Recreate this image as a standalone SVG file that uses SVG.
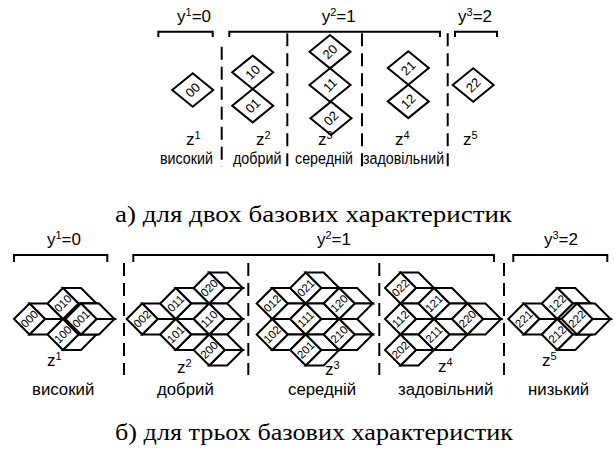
<svg xmlns="http://www.w3.org/2000/svg" width="615" height="454" viewBox="0 0 615 454">
<style>
.ln{fill:none;stroke:#000;stroke-width:2}
.dash{fill:none;stroke:#000;stroke-width:2;stroke-dasharray:13 7}
.sh{fill:#fff;stroke:#000;stroke-width:2;stroke-linejoin:miter}
.t{font-family:"Liberation Sans",Arial,sans-serif;fill:#000}
.lab{font-family:"Liberation Sans",Arial,sans-serif;font-size:11.5px;text-anchor:middle;dominant-baseline:central;fill:#000}
.laba{font-family:"Liberation Sans",Arial,sans-serif;font-size:13px;text-anchor:middle;dominant-baseline:central;fill:#000}
.cap{font-family:"Liberation Serif","Times New Roman",serif;font-size:23px;fill:#000}
</style>
<defs>
<g id="dia"><polygon class="sh" points="-20.5,0 0,-16.7 20.5,0 0,16.7"/></g>
<g id="cube"><polygon class="sh" points="0,-15.5 18,-15.5 33.5,0 15.5,0"/><polygon class="sh" points="15.5,0 33.5,0 18,15.5 0,15.5"/><polygon class="sh" points="-15.5,0 0,-15.5 15.5,0 0,15.5"/></g>
</defs>
<g id="connectors">
<path class="ln" d="M158.3,37V31.7H212.7V37M229.3,37V31.7H440V37M455,37V31.7H497V37"/>
<path class="dash" d="M221.7,46.7V167M287.3,33.3V167M362,33.3V167M447.7,33.3V167"/>
<path class="ln" d="M14,262V255H107.3V262M133.3,262V255H494V262M513.3,262V255H607.3V262"/>
<path class="dash" d="M124,263V375M248.3,263V375M379.3,263V375M504,263V375"/>
</g>
<g id="n00"><use href="#dia" x="192.7" y="90"/><text class="laba" transform="translate(192.7,90) rotate(-45)">00</text></g>
<g id="n10"><use href="#dia" x="252.7" y="72.3"/><text class="laba" transform="translate(252.7,72.3) rotate(-45)">10</text></g>
<g id="n01"><use href="#dia" x="252.7" y="105.7"/><text class="laba" transform="translate(252.7,105.7) rotate(-45)">01</text></g>
<g id="n20"><use href="#dia" x="330" y="51.7"/><text class="laba" transform="translate(330,51.7) rotate(-45)">20</text></g>
<g id="n11"><use href="#dia" x="330" y="85"/><text class="laba" transform="translate(330,85) rotate(-45)">11</text></g>
<g id="n02"><use href="#dia" x="331" y="118.3"/><text class="laba" transform="translate(331,118.3) rotate(-45)">02</text></g>
<g id="n21"><use href="#dia" x="408.3" y="68"/><text class="laba" transform="translate(408.3,68) rotate(-45)">21</text></g>
<g id="n12"><use href="#dia" x="408.3" y="101.4"/><text class="laba" transform="translate(408.3,101.4) rotate(-45)">12</text></g>
<g id="n22"><use href="#dia" x="473.2" y="85"/><text class="laba" transform="translate(473.2,85) rotate(-45)">22</text></g>
<g id="labels-a" class="t">
<text x="177" y="21.5" font-size="17">y<tspan font-size="11" dy="-6">1</tspan><tspan dy="6">=0</tspan></text>
<text x="321.7" y="21.5" font-size="17">y<tspan font-size="11" dy="-6">2</tspan><tspan dy="6">=1</tspan></text>
<text x="458" y="21.5" font-size="17">y<tspan font-size="11" dy="-6">3</tspan><tspan dy="6">=2</tspan></text>
<text x="186" y="145" font-size="17">z<tspan font-size="11" dy="-6">1</tspan></text>
<text x="256" y="145" font-size="17">z<tspan font-size="11" dy="-6">2</tspan></text>
<text x="318" y="145" font-size="17">z<tspan font-size="11" dy="-6">3</tspan></text>
<text x="395" y="145" font-size="17">z<tspan font-size="11" dy="-6">4</tspan></text>
<text x="463" y="145" font-size="17">z<tspan font-size="11" dy="-6">5</tspan></text>
<g transform="translate(0,164) scale(1,1.2)">
<text x="160" y="0" font-size="14.3">високий</text>
<text x="233" y="0" font-size="14.3">добрий</text>
<text x="295" y="0" font-size="14.3">середній</text>
<text x="363" y="0" font-size="14.3">задовільний</text>
</g>
</g>
<text class="cap" x="115" y="221.7" textLength="397" lengthAdjust="spacingAndGlyphs">а) для двох базових характеристик</text>
<g id="labels-b" class="t">
<text x="64" y="245" font-size="17" text-anchor="middle">y<tspan font-size="11" dy="-6">1</tspan><tspan dy="6">=0</tspan></text>
<text x="334" y="245" font-size="17" text-anchor="middle">y<tspan font-size="11" dy="-6">2</tspan><tspan dy="6">=1</tspan></text>
<text x="561" y="245" font-size="17" text-anchor="middle">y<tspan font-size="11" dy="-6">3</tspan><tspan dy="6">=2</tspan></text>
<text x="47" y="366" font-size="17">z<tspan font-size="11" dy="-6">1</tspan></text>
<text x="177" y="373" font-size="17">z<tspan font-size="11" dy="-6">2</tspan></text>
<text x="325" y="375" font-size="17">z<tspan font-size="11" dy="-6">3</tspan></text>
<text x="438" y="372" font-size="17">z<tspan font-size="11" dy="-6">4</tspan></text>
<text x="542" y="366" font-size="17">z<tspan font-size="11" dy="-6">5</tspan></text>
<text x="32" y="395" font-size="16.8">високий</text>
<text x="157" y="395" font-size="16.8">добрий</text>
<text x="288" y="395" font-size="16.8">середній</text>
<text x="398" y="395" font-size="16.8">задовільний</text>
<text x="528" y="395" font-size="16.8">низький</text>
</g>
<g id="c000"><use href="#cube" x="29.5" y="319"/><text class="lab" transform="translate(29.5,319) rotate(-45)">000</text></g>
<g id="c010"><use href="#cube" x="63" y="303.5"/><text class="lab" transform="translate(63,303.5) rotate(-45)">010</text></g>
<g id="c100"><use href="#cube" x="63" y="334.5"/><text class="lab" transform="translate(63,334.5) rotate(-45)">100</text></g>
<g id="c001"><use href="#cube" x="81" y="319"/><text class="lab" transform="translate(81,319) rotate(-45)">001</text></g>
<g id="c002"><use href="#cube" x="142.2" y="319"/><text class="lab" transform="translate(142.2,319) rotate(-45)">002</text></g>
<g id="c011"><use href="#cube" x="175.7" y="303.5"/><text class="lab" transform="translate(175.7,303.5) rotate(-45)">011</text></g>
<g id="c101"><use href="#cube" x="175.7" y="334.5"/><text class="lab" transform="translate(175.7,334.5) rotate(-45)">101</text></g>
<g id="c020"><use href="#cube" x="209.2" y="288"/><text class="lab" transform="translate(209.2,288) rotate(-45)">020</text></g>
<g id="c110"><use href="#cube" x="209.2" y="319"/><text class="lab" transform="translate(209.2,319) rotate(-45)">110</text></g>
<g id="c200"><use href="#cube" x="209.2" y="350"/><text class="lab" transform="translate(209.2,350) rotate(-45)">200</text></g>
<g id="c012"><use href="#cube" x="272.2" y="303.5"/><text class="lab" transform="translate(272.2,303.5) rotate(-45)">012</text></g>
<g id="c102"><use href="#cube" x="272.2" y="334.5"/><text class="lab" transform="translate(272.2,334.5) rotate(-45)">102</text></g>
<g id="c021"><use href="#cube" x="305.7" y="288"/><text class="lab" transform="translate(305.7,288) rotate(-45)">021</text></g>
<g id="c111"><use href="#cube" x="305.7" y="319"/><text class="lab" transform="translate(305.7,319) rotate(-45)">111</text></g>
<g id="c201"><use href="#cube" x="305.7" y="350"/><text class="lab" transform="translate(305.7,350) rotate(-45)">201</text></g>
<g id="c120"><use href="#cube" x="339.2" y="303.5"/><text class="lab" transform="translate(339.2,303.5) rotate(-45)">120</text></g>
<g id="c210"><use href="#cube" x="339.2" y="334.5"/><text class="lab" transform="translate(339.2,334.5) rotate(-45)">210</text></g>
<g id="c022"><use href="#cube" x="400.5" y="288"/><text class="lab" transform="translate(400.5,288) rotate(-45)">022</text></g>
<g id="c112"><use href="#cube" x="400.5" y="319"/><text class="lab" transform="translate(400.5,319) rotate(-45)">112</text></g>
<g id="c202"><use href="#cube" x="400.5" y="350"/><text class="lab" transform="translate(400.5,350) rotate(-45)">202</text></g>
<g id="c121"><use href="#cube" x="434" y="303.5"/><text class="lab" transform="translate(434,303.5) rotate(-45)">121</text></g>
<g id="c211"><use href="#cube" x="434" y="334.5"/><text class="lab" transform="translate(434,334.5) rotate(-45)">211</text></g>
<g id="c220"><use href="#cube" x="467.5" y="319"/><text class="lab" transform="translate(467.5,319) rotate(-45)">220</text></g>
<g id="c221"><use href="#cube" x="523.8" y="319"/><text class="lab" transform="translate(523.8,319) rotate(-45)">221</text></g>
<g id="c122"><use href="#cube" x="557.3" y="303.5"/><text class="lab" transform="translate(557.3,303.5) rotate(-45)">122</text></g>
<g id="c212"><use href="#cube" x="557.3" y="334.5"/><text class="lab" transform="translate(557.3,334.5) rotate(-45)">212</text></g>
<g id="c222"><use href="#cube" x="577" y="319"/><text class="lab" transform="translate(577,319) rotate(-45)">222</text></g>
<text class="cap" x="115" y="440" textLength="398" lengthAdjust="spacingAndGlyphs">б) для трьох базових характеристик</text>
</svg>
